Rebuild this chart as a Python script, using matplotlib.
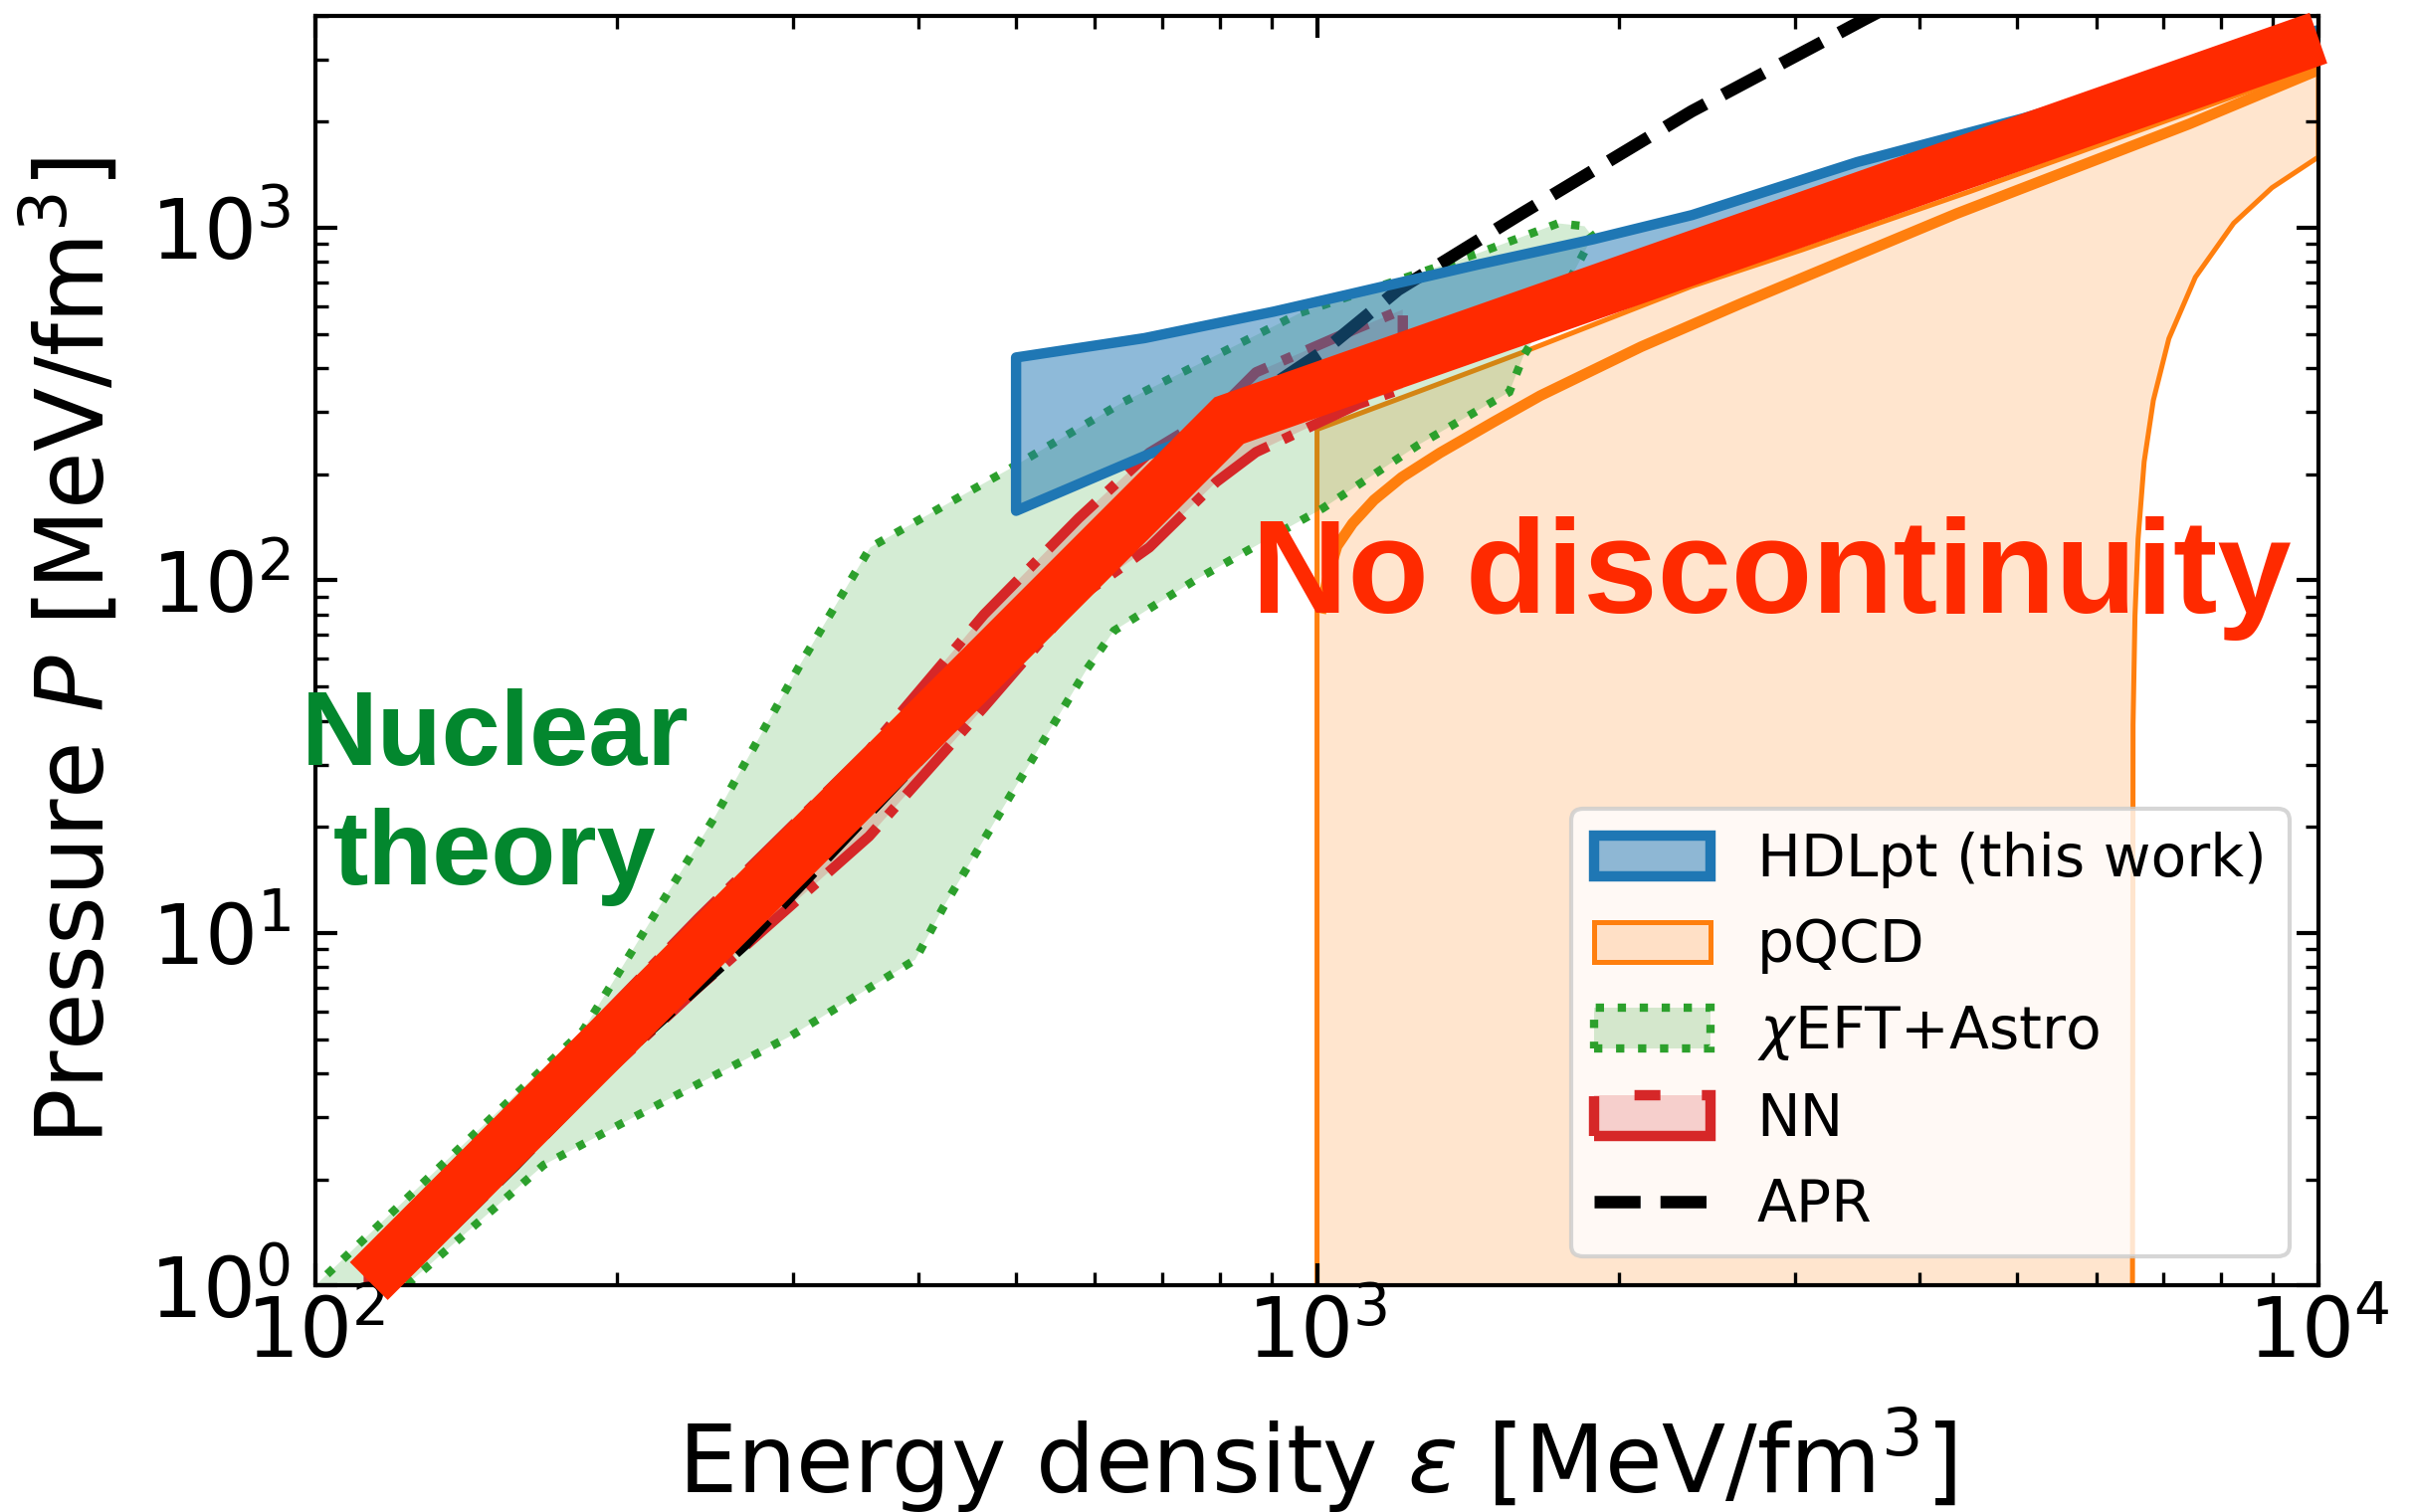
import matplotlib
matplotlib.use("Agg")
import matplotlib.pyplot as plt
from matplotlib.colors import to_rgba

# HDLpt band (this work)
hdl_eps = [500, 672, 904, 1067, 1449, 1884, 2366, 3459, 5070, 10000]
hdl_low = [158, 226, 314, 370, 502, 653, 820, 1197, 1753, 3450]
hdl_up = [430, 488, 580, 646, 790, 930, 1090, 1540, 2050, 3650]

# pQCD region: upper edge, then the right-hand edge going down
pqcd_up_eps = [1000, 1000, 1300, 1607, 2366, 3048, 4500, 7430, 10000]
pqcd_up_p = [0.5, 268, 354, 444, 682, 865, 1270, 2123, 2880]
pqcd_low_eps = [10000, 8989, 8230, 7536, 7091, 6842, 6699, 6606, 6559, 6530, 6520]
pqcd_low_p = [1587, 1299, 1030, 724, 485, 324, 217, 131, 79.4, 39, 0.5]
# thick pQCD curve
pqcd2_eps = [1011, 1025, 1047, 1085, 1140, 1215, 1327, 1503, 1671, 2108, 2652, 4354, 7430, 10000]
pqcd2_p = [83.5, 102, 125, 145, 169, 196, 230, 282, 334, 460, 610, 1097, 1969, 2800]

# chiEFT + Astro region (upper edge then lower edge back)
eft_up_eps = [92, 185, 251, 305, 358, 426, 490, 640, 963, 1449, 1741, 1850, 1884]
eft_up_p = [0.8, 5.3, 21.6, 58, 124, 164, 205, 320, 574, 847, 1029, 1010, 944]
eft_low_eps = [1795, 1607, 1556, 1262, 1013, 931, 753, 627, 589, 503, 424, 397, 298, 201, 169, 122, 110]
eft_low_p = [727, 432, 342, 242, 160, 140, 99.6, 72, 56, 26.7, 11.9, 8.4, 5.1, 2.86, 2.2, 0.98, 0.75]

# NN band
nn_eps = [113, 241, 357, 465, 578, 680, 793, 869, 1099, 1218]
nn_low = [0.95, 7.0, 18.8, 43.7, 89.3, 124, 190, 231, 316, 350]
nn_up = [1.2, 11, 33, 80, 150, 230, 300, 389, 520, 586]

# APR
apr_eps = [110, 158, 201, 268, 400, 550, 700, 915, 1014, 1205, 1600, 2366, 3162, 3516, 3981]
apr_p = [0.8, 2.2, 4.44, 9.3, 31, 78, 165, 367, 446, 667, 1096, 2138, 3311, 3890, 4677]

# "no discontinuity" line
red_eps = [113, 817, 10000]
red_p = [1.03, 284, 3450]

RED = "#ff2a00"
GREEN_TXT = "#03872e"

fig = plt.figure(figsize=(2427 / 300, 1520 / 300), dpi=300)
ax = fig.add_axes([0.1307, 0.1497, 0.8293, 0.8401])
ax.set_xscale("log")
ax.set_yscale("log")

# pQCD
ax.fill(pqcd_up_eps + pqcd_low_eps, pqcd_up_p + pqcd_low_p,
        facecolor=to_rgba("C1", 0.2), edgecolor="C1", lw=1.2, zorder=1, label="pQCD")
ax.plot(pqcd2_eps, pqcd2_p, color="C1", lw=2.6, zorder=1.05)

# chiEFT + Astro
ax.fill(eft_up_eps + eft_low_eps, eft_up_p + eft_low_p,
        facecolor=to_rgba("C2", 0.2), edgecolor="C2", ls=":", lw=2.0,
        zorder=1.1, label=r"$\chi$EFT+Astro")

# NN
ax.fill_between(nn_eps, nn_low, nn_up, facecolor=to_rgba("C3", 0.2),
                edgecolor="C3", ls="-.", lw=2.5, zorder=1.2, label="NN")

# APR
ax.plot(apr_eps, apr_p, color="k", ls="--", lw=3, zorder=1.3, label="APR")

# HDLpt
ax.fill_between(hdl_eps, hdl_low, hdl_up, facecolor=to_rgba("C0", 0.5),
                edgecolor="C0", lw=2.5, zorder=1.5, label="HDLpt (this work)")

ax.plot(red_eps, red_p, color=RED, lw=12.9, solid_capstyle="butt",
        solid_joinstyle="miter", clip_on=False, zorder=3)

ax.text(860, 81, "No discontinuity", color=RED, fontsize=32, fontweight="bold",
        family="Liberation Sans", ha="left", va="baseline", zorder=4)
ax.text(151, 30.0, "Nuclear", color=GREEN_TXT, fontsize=25.5, fontweight="bold",
        family="Liberation Sans", ha="center", va="baseline", zorder=4)
ax.text(151, 13.7, "theory", color=GREEN_TXT, fontsize=25.5, fontweight="bold",
        family="Liberation Sans", ha="center", va="baseline", zorder=4)

ax.set_xlim(100, 10000)
ax.set_ylim(1, 4000)

ax.set_xlabel(r"Energy density $\varepsilon$ [MeV/fm$^3$]", fontsize=22.5)
ax.set_ylabel(r"Pressure $P$ [MeV/fm$^3$]", fontsize=22.5)
ax.xaxis.set_label_coords(0.5, -0.094)
ax.yaxis.set_label_coords(-0.096, 0.5)

ax.tick_params(which="both", direction="in", top=True, right=True, labelsize=20)
ax.tick_params(which="major", length=5.2, width=1.0)
ax.tick_params(which="minor", length=3.2, width=0.8)
ax.tick_params(axis="x", pad=2)
ax.tick_params(axis="y", pad=6)
for s in ax.spines.values():
    s.set_linewidth(1.0)

h, l = ax.get_legend_handles_labels()
order = ["HDLpt (this work)", "pQCD", r"$\chi$EFT+Astro", "NN", "APR"]
hh = [h[l.index(o)] for o in order]
leg = ax.legend(hh, order, loc="lower right", fontsize=14, labelspacing=0.5)
leg.set_zorder(5)

fig.savefig("out.png", dpi=300)
